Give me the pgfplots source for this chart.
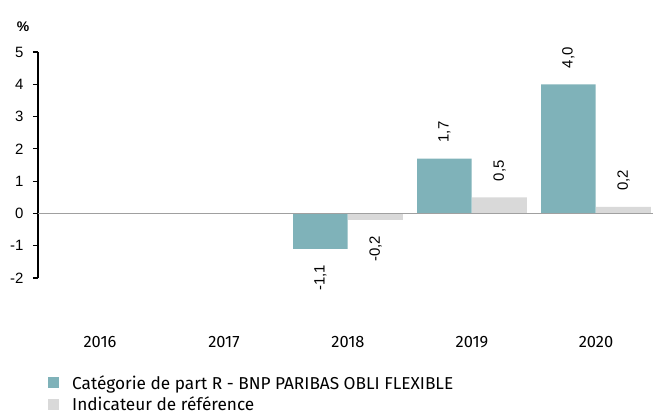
\documentclass[border=0pt]{standalone}
\usepackage{fontspec}
\setmainfont{Liberation Sans}
\newfontfamily\lfont{Fira Sans}
\usepackage{pgfplots}
\pgfplotsset{compat=1.18}
\definecolor{teal1}{HTML}{7FB2B9}
\definecolor{grey1}{HTML}{D9D9D9}
\definecolor{zline}{HTML}{A0A0A0}
\begin{document}
\begin{tikzpicture}
\useasboundingbox (-38bp,-137bp) rectangle (616bp,278bp);
\begin{axis}[
  at={(0,0)}, anchor=south west,
  scale only axis, width=615bp, height=226bp,
  xmin=-0.5, xmax=4.46, ymin=-2, ymax=5,
  ybar=0pt, bar width=0.44,
  axis lines*=left,
  x axis line style={draw=none},
  y axis line style={black, line width=1.2bp},
  xtick={0,1,2,3,4},
  xticklabels={2016,2017,2018,2019,2020},
  xtick style={draw=none},
  ytick={-2,-1,0,1,2,3,4,5},
  ytick style={black, line width=1.2bp},
  tick align=outside,
  major tick length=5bp,
  /pgf/number format/assume math mode=true,
  yticklabel style={font=\fontsize{15}{15}\selectfont, xshift=-6bp},
  xticklabel style={font=\lfont\fontsize{16.5}{16.5}\selectfont, yshift=-50bp},
  visualization depends on={rawy \as \rawy},
  nodes near coords={\pgfmathprintnumber[fixed,fixed zerofill,precision=1,use comma,assume math mode=true]{\pgfplotspointmeta}},
  every node near coord/.append style={
    font=\fontsize{15}{15}\selectfont, rotate=90, inner xsep=16bp, inner ysep=0pt,
    /utils/exec={\ifdim\rawy pt<0pt \gdef\myanchor{east}\else\gdef\myanchor{west}\fi},
    anchor=\myanchor},
  clip=false,
  legend style={at={(axis description cs:0,0)}, anchor=north west, xshift=10bp, yshift=-95bp,
    draw=none, fill=none, font=\lfont\fontsize{17.3}{17.3}\selectfont,
    row sep=2.5bp, inner sep=0pt},
  legend cell align=left,
]
\addplot[bar shift=-0.222, fill=teal1, draw=none, forget plot]
  coordinates {(2,-1.1) (3,1.7) (4,4.0)};
\addplot[bar shift=0.222, fill=grey1, draw=none, forget plot]
  coordinates {(2,-0.2) (3,0.5) (4,0.2)};
\draw[zline, line width=1.5bp] (axis cs:-0.5,0) -- (axis cs:4.46,0);
\addlegendimage{legend image code/.code={\fill[teal1, draw=none] (0bp,-5.5bp) rectangle (11bp,5.5bp); \path[draw=none, fill=none] (0bp,0bp) -- (22bp,0bp);}}
\addlegendentry{Catégorie de part R - BNP PARIBAS OBLI FLEXIBLE}
\addlegendimage{legend image code/.code={\fill[grey1, draw=none] (0bp,-5.5bp) rectangle (11bp,5.5bp); \path[draw=none, fill=none] (0bp,0bp) -- (22bp,0bp);}}
\addlegendentry{Indicateur de référence}
\node[font=\bfseries\fontsize{14}{14}\selectfont] at (rel axis cs:0,1) [xshift=-15bp, yshift=25bp] {\%};
\end{axis}
\end{tikzpicture}
\end{document}
